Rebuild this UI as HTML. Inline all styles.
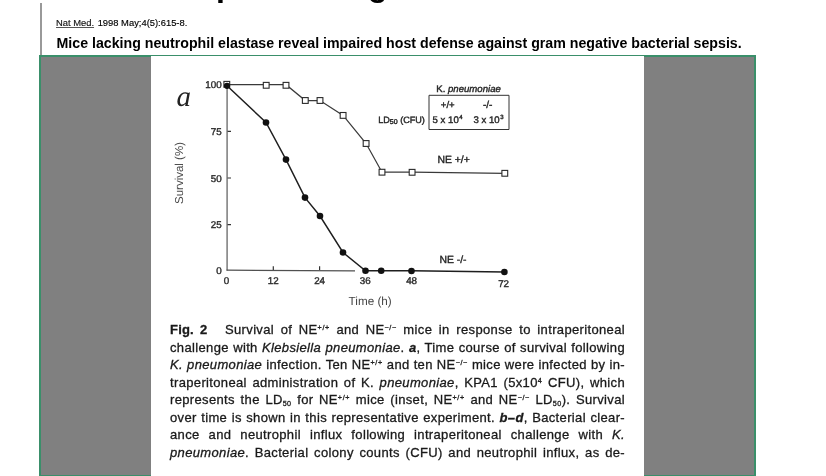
<!DOCTYPE html>
<html><head><meta charset="utf-8">
<style>
html,body{margin:0;padding:0;background:#fff;width:826px;height:476px;overflow:hidden;position:relative;}
body{font-family:"Liberation Sans",Arial,sans-serif;color:#000;}
.h1{position:absolute;left:0;top:-33px;font:bold 32px/36px "Liberation Sans",Arial,sans-serif;white-space:nowrap;}
.vline{position:absolute;left:40px;top:3px;width:2px;height:52px;background:#999;}
.cite{position:absolute;left:56px;top:17px;font-size:9.4px;line-height:11px;color:#000;white-space:nowrap;-webkit-text-stroke:0.15px #000;}
.cite u{color:#222;text-decoration-color:#555;margin-right:1px;}
.title{position:absolute;left:56.5px;top:36px;font:bold 14.2px/15px "Liberation Sans",Arial,sans-serif;white-space:nowrap;color:#000;}
.box{position:absolute;left:39px;top:55px;width:713px;height:418px;border:2px solid #3a8f6a;background:#808080;}
.img{position:absolute;left:151px;top:56px;width:493px;height:430px;background:#fff;overflow:hidden;}
.img svg{position:absolute;left:0;top:0;text-rendering:geometricPrecision;}
.sk{stroke:#2a2a2a;stroke-width:0.4px;}
.cap{position:absolute;left:19px;width:455px;font:13px/17.5px "Liberation Sans",Arial,sans-serif;color:#1a1a1a;-webkit-text-stroke:0.3px #1a1a1a;letter-spacing:0.35px;word-spacing:-2px;}
.cap div{text-align:justify;text-align-last:justify;white-space:nowrap;height:17.5px;}
.cap sup{font-size:7.2px;vertical-align:4px;line-height:0;letter-spacing:0.6px;}
.cap sub{font-size:7.2px;vertical-align:-1.5px;line-height:0;letter-spacing:0.4px;}
</style></head>
<body>
<div class="h1"><span style="position:absolute;left:216px">p</span><span style="position:absolute;left:368px">g</span></div>
<div class="vline"></div>
<div class="cite"><u>Nat Med.</u> 1998 May;4(5):615-8.</div>
<div class="title">Mice lacking neutrophil elastase reveal impaired host defense against gram negative bacterial sepsis.</div>
<div class="box"></div>
<div class="img">
<svg width="493" height="430" viewBox="151 56 493 430" font-family="Liberation Sans, Arial, sans-serif">
<text x="176.6" y="105.6" font-family="Liberation Serif, serif" font-style="italic" font-size="29" fill="#222">a</text>
<!-- axes -->
<path d="M227.1 84 V270.5" stroke="#7a7a7a" stroke-width="1.5" fill="none"/>
<path d="M226.5 270.2 L355 270.8" stroke="#505050" stroke-width="1.3" fill="none"/>
<path d="M227.5 131.4 H231 M227.5 178 H231 M227.5 224.6 H231 M273.3 270 V266.3 M319.6 270 V266.3" stroke="#333" stroke-width="1.2" fill="none"/>
<g font-size="9.8" fill="#333" text-anchor="end" class="sk">
<text x="221.6" y="87.8">100</text>
<text x="221.6" y="134.5">75</text>
<text x="221.6" y="181.5">50</text>
<text x="221.6" y="228">25</text>
<text x="221.8" y="273.9">0</text>
</g>
<g font-size="9.8" fill="#333" text-anchor="middle" class="sk">
<text x="226.4" y="283.5">0</text>
<text x="273.3" y="283.5">12</text>
<text x="319.6" y="283.6">24</text>
<text x="365.2" y="284">36</text>
<text x="411.6" y="284.2">48</text>
<text x="503.6" y="286.6">72</text>
</g>
<text x="348.6" y="304.6" font-size="11.7" fill="#444">Time (h)</text>
<text transform="translate(182.5 173) rotate(-90)" text-anchor="middle" font-size="11.5" fill="#4a4a4a">Survival (%)</text>
<!-- NE +/+ open squares -->
<path d="M227 84.7 H286 L305.3 100.5 H320 L343.1 115.4 L366.1 143.5 L382 172.2 H412.1 L504.8 173.3" stroke="#3a3a3a" stroke-width="1.25" fill="none"/>
<g fill="#fff" stroke="#2a2a2a" stroke-width="1.1">
<rect x="223.9" y="81.4" width="5.8" height="5.8"/>
<rect x="263.3" y="82.4" width="5.8" height="5.8"/>
<rect x="283.1" y="82.4" width="5.8" height="5.8"/>
<rect x="302.4" y="97.6" width="5.8" height="5.8"/>
<rect x="317.1" y="97.6" width="5.8" height="5.8"/>
<rect x="340.2" y="112.5" width="5.8" height="5.8"/>
<rect x="363.2" y="140.6" width="5.8" height="5.8"/>
<rect x="379.1" y="169.3" width="5.8" height="5.8"/>
<rect x="409.2" y="169.4" width="5.8" height="5.8"/>
<rect x="501.9" y="170.4" width="5.8" height="5.8"/>
</g>
<!-- NE -/- filled circles -->
<path d="M227 85.8 L266 122.5 L286 159.6 L305 197.6 L320 216 L343 252.5 L365.5 270.8 H411.5 L504.4 272" stroke="#1e1e1e" stroke-width="1.45" fill="none"/>
<g fill="#111">
<circle cx="227" cy="85.8" r="3.1"/>
<circle cx="266" cy="122.5" r="3.3"/>
<circle cx="286" cy="159.6" r="3.3"/>
<circle cx="305" cy="197.6" r="3.3"/>
<circle cx="320" cy="216" r="3.3"/>
<circle cx="343" cy="252.5" r="3.3"/>
<circle cx="365.5" cy="270.8" r="3.3"/>
<circle cx="381.2" cy="270.8" r="3.3"/>
<circle cx="411.5" cy="271" r="3.3"/>
<circle cx="504.4" cy="272" r="3.3"/>
</g>
<!-- labels -->
<text x="437.4" y="163" font-size="10.4" fill="#222" class="sk">NE +/+</text>
<text x="439.4" y="263.3" font-size="10.4" fill="#222" class="sk">NE -/-</text>
<!-- inset -->
<text x="436.3" y="91.5" font-size="9.6" fill="#222" class="sk">K. <tspan font-style="italic">pneumoniae</tspan></text>
<path d="M429 95.3 H509 V129.5 H429 Z" stroke="#333" stroke-width="1" fill="none"/>
<text x="440.8" y="107.5" font-size="9.6" fill="#222" class="sk">+/+</text>
<text x="483" y="107.5" font-size="10" fill="#222" class="sk">-/-</text>
<text x="378.2" y="122.8" font-size="9.1" fill="#222" class="sk">LD<tspan font-size="7" dy="1.5">50</tspan><tspan dy="-1.5"> (CFU)</tspan></text>
<text x="432.6" y="122.8" font-size="9.6" fill="#222" class="sk">5 x 10<tspan font-size="6" dy="-3.5" dx="0.5">4</tspan></text>
<text x="473.5" y="122.8" font-size="9.6" fill="#222" class="sk">3 x 10<tspan font-size="6" dy="-3.5" dx="0.5">3</tspan></text>
</svg>
<div class="cap" style="top:265px">
<div><b style="display:inline-block;width:55px;text-align-last:left;word-spacing:2.3px;letter-spacing:0.2px">Fig. 2</b>Survival of NE<sup>+/+</sup> and NE<sup>&minus;/&minus;</sup> mice in response to intraperitoneal</div>
<div>challenge with <i>Klebsiella pneumoniae</i>. <b><i>a</i></b>, Time course of survival following</div>
<div><i>K. pneumoniae</i> infection. Ten NE<sup>+/+</sup> and ten NE<sup>&minus;/&minus;</sup> mice were infected by in-</div>
<div>traperitoneal administration of K. <i>pneumoniae</i>, KPA1 (5x10<sup>4</sup> CFU), which</div>
<div>represents the LD<sub>50</sub> for NE<sup>+/+</sup> mice (inset, NE<sup>+/+</sup> and NE<sup>&minus;/&minus;</sup> LD<sub>50</sub>). Survival</div>
<div>over time is shown in this representative experiment. <b><i>b&ndash;d</i></b>, Bacterial clear-</div>
<div>ance and neutrophil influx following intraperitoneal challenge with <i>K.</i></div>
<div><i>pneumoniae</i>. Bacterial colony counts (CFU) and neutrophil influx, as de-</div>
</div>
</div>
</body></html>
